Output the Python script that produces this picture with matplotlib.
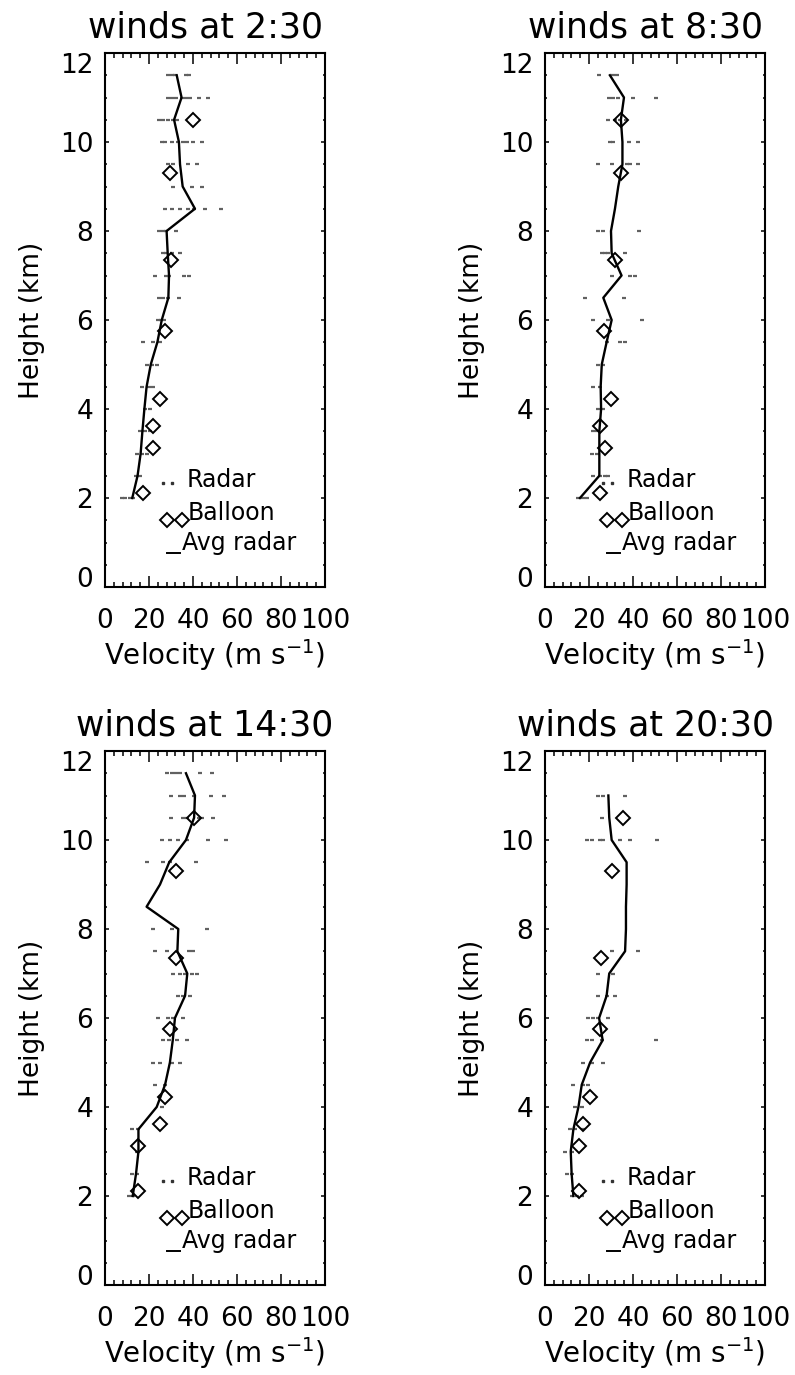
import matplotlib
matplotlib.use("Agg")
import matplotlib.pyplot as plt
from matplotlib.ticker import MultipleLocator

# ---- data -----------------------------------------------------------------
times = ["2:30", "8:30", "14:30", "20:30"]

# radar gate heights (km), top to bottom
radar_heights = [11.5, 11.0, 10.5, 10.0, 9.5, 9.0, 8.5, 8.0, 7.5, 7.0,
                 6.5, 6.0, 5.5, 5.0, 4.5, 4.0, 3.5, 3.0, 2.5, 2.0]
radar_heights_2030 = radar_heights[1:]

# balloon sounding heights (km)
balloon_heights = [10.5, 9.3, 7.35, 5.75, 4.22, 3.62, 3.12, 2.12]

# individual radar wind speeds (m/s) at each gate height
radar_0230 = [[28.8, 30.3, 31.8, 36.8, 38.3],
              [28.8, 30.3, 32.3, 34.8, 36.8, 38.6, 42.7, 46.8],
              [24.7, 26.2, 28.8, 30.8, 32.6],
              [25.8, 27.3, 30.3, 33.3, 35.6, 37.4, 40.2, 43.9],
              [28.8, 30.8, 37.9, 41.7],
              [30.8, 39.4, 43.9],
              [27.3, 30.6, 34.0, 37.5, 40.5, 45.5, 52.6],
              [24.7, 26.2, 27.7, 32.4],
              [26.2, 27.7, 30.3, 34.1],
              [22.7, 27.7, 29.2, 35.8, 38.1],
              [24.7, 26.5, 28.5, 33.5],
              [23.9, 25.5, 27.0],
              [17.4, 22.0, 25.0],
              [18.9, 21.2, 23.5],
              [16.7, 20.2, 22.0],
              [18.2, 20.5],
              [15.9, 18.2, 20.5],
              [14.4, 16.7, 18.9],
              [14.1, 15.9],
              [7.6, 9.1, 11.4, 12.9]]

radar_0830 = [[24.7, 31.1, 32.6],
              [29.2, 31.1, 33.3, 40.2, 50.4],
              [28.8, 31.8, 34.1, 36.8],
              [29.5, 30.8, 38.3, 42.4],
              [24.2, 30.3, 37.1, 38.6, 42.4],
              [],
              [],
              [24.2, 26.5, 42.9],
              [25.8, 27.3, 28.8, 36.4],
              [30.3, 38.6, 40.9],
              [18.2, 35.9],
              [22.0, 28.8, 43.9],
              [28.0, 34.1, 36.4],
              [24.2, 26.5],
              [22.0, 25.0],
              [24.2, 26.5],
              [21.7, 23.5],
              [21.2, 23.5],
              [22.0, 25.0, 27.3, 28.8],
              [15.2, 17.4, 18.9]]

radar_1430 = [[28.0, 30.3, 32.3, 34.1, 43.2, 48.5],
              [29.8, 34.1, 35.9, 40.6, 48.2, 54.1],
              [29.8, 35.3, 37.4, 42.9, 43.9, 49.2],
              [25.8, 29.5, 33.3, 37.1, 47.0, 55.0],
              [18.9, 26.2, 29.5, 41.4],
              [],
              [],
              [21.7, 30.3, 46.2],
              [22.7, 28.0, 38.3, 39.8],
              [31.1, 34.1, 36.4, 39.4, 41.7],
              [33.3, 35.6, 38.6],
              [24.2, 28.8, 31.1, 35.6],
              [26.5, 29.2, 32.6, 37.4],
              [22.0, 25.0, 30.3, 34.1],
              [22.7, 27.3],
              [25.8],
              [12.1, 15.2],
              [14.4],
              [12.1, 14.7],
              [11.1, 12.9]]

radar_2030 = [[24.2, 26.5, 36.4],
              [25.8],
              [18.9, 21.2, 25.0, 26.5, 34.1, 38.6, 50.8],
              [],
              [],
              [],
              [],
              [30.3, 42.4],
              [24.2, 31.1],
              [24.2, 28.0, 31.8],
              [19.7, 22.0, 24.2, 28.8],
              [19.2, 21.2, 25.8, 50.5],
              [17.4, 21.2, 26.5],
              [12.9, 17.4, 19.7],
              [13.6, 16.7],
              [11.4, 13.6, 17.4],
              [9.1, 12.1],
              [9.8, 12.1],
              [12.1, 14.4, 16.7]]

# averaged radar profile (m/s)
avg_0230 = [32.6, 34.8, 31.4, 33.6, 34.1, 35.3, 40.9, 28.0, 28.5, 29.1,
            28.8, 25.8, 23.8, 20.8, 18.9, 17.9, 17.0, 16.2, 14.8, 12.4]
avg_0830 = [29.5, 35.9, 34.5, 35.2, 35.2, 33.3, 31.8, 30.0, 30.3, 34.8,
            26.5, 30.3, 28.0, 25.8, 25.3, 25.5, 24.7, 24.7, 24.7, 15.9]
avg_1430 = [36.8, 40.9, 40.5, 36.8, 29.2, 25.0, 18.9, 33.3, 32.9, 37.4,
            36.4, 31.8, 30.8, 29.5, 27.3, 23.5, 15.2, 15.2, 14.1, 12.6]
avg_2030 = [28.8, 29.2, 30.3, 37.1, 37.1, 36.8, 36.8, 36.4, 29.2,
            28.0, 24.6, 26.2, 20.5, 16.7, 15.2, 12.9, 11.7, 12.1, 12.9]

# balloon wind speeds (m/s)
balloon_0230 = [39.8, 29.5, 30.0, 27.3, 25.0, 21.9, 21.9, 17.1]
balloon_0830 = [34.5, 34.5, 31.6, 26.8, 30.0, 25.0, 27.3, 25.0]
balloon_1430 = [40.5, 32.3, 32.3, 29.5, 27.3, 25.0, 15.2, 15.2]
balloon_2030 = [35.3, 30.3, 25.3, 25.0, 20.5, 17.4, 15.6, 15.6]

x_ticks = [0, 20, 40, 60, 80, 100]
y_ticks = [0, 2, 4, 6, 8, 10, 12]

# ---- figure ---------------------------------------------------------------
W, H, DPI = 795, 1375, 100
fig = plt.figure(figsize=(W / DPI, H / DPI), dpi=DPI)
fig.patch.set_facecolor("white")

AX_W, AX_H = 220, 534
corners = [(105, 53), (545, 53), (105, 751), (545, 751)]

panels = [
    (times[0], radar_heights, radar_0230, avg_0230, balloon_0230),
    (times[1], radar_heights, radar_0830, avg_0830, balloon_0830),
    (times[2], radar_heights, radar_1430, avg_1430, balloon_1430),
    (times[3], radar_heights_2030, radar_2030, avg_2030, balloon_2030),
]

radar_style = dict(ls="none", marker="_", ms=3, mew=1.6, color="0.38")
diamond_style = dict(ls="none", marker="D", ms=7.3, mfc="none",
                     mec="k", mew=1.4)

for (left, top), (label, heights, radar, avg, balloon) in zip(corners, panels):
    ax = fig.add_axes([left / W, 1 - (top + AX_H) / H, AX_W / W, AX_H / H])
    ax.set_xlim(0, 100)
    ax.set_ylim(0, 12)

    # radar samples
    for h, vals in zip(heights, radar):
        if vals:
            ax.plot(vals, [h] * len(vals), **radar_style)
    # averaged radar profile
    ax.plot(avg, heights, color="k", lw=1.7, solid_joinstyle="round")
    # balloon soundings
    ax.plot(balloon, balloon_heights, **diamond_style)

    # axes decoration
    ax.set_xticks(x_ticks)
    ax.set_yticks(y_ticks)
    ax.set_xticklabels([str(v) for v in x_ticks])
    ax.set_yticklabels([str(v) for v in y_ticks])
    ax.xaxis.set_minor_locator(MultipleLocator(4))
    ax.yaxis.set_minor_locator(MultipleLocator(0.5))
    ax.tick_params(which="both", direction="in", top=True, right=True,
                   width=1.1, color="k")
    ax.tick_params(axis="x", which="major", length=7.7, pad=15,
                   labelsize=19)
    ax.tick_params(axis="x", which="minor", length=3.8)
    ax.tick_params(axis="y", which="major", length=3.2, pad=8.5,
                   labelsize=19)
    ax.tick_params(axis="y", which="minor", length=1.6)
    ylabels = ax.get_yticklabels()
    ylabels[0].set_va("baseline")
    ylabels[-1].set_va("top")
    for sp in ax.spines.values():
        sp.set_linewidth(1.5)

    ax.text(0.455, 1 + 16 / AX_H, f"winds at {label}", transform=ax.transAxes,
            ha="center", va="baseline", fontsize=25)
    ax.text(0.5, -(655 - 587) / AX_H, "Velocity (m s$^{-1}$)",
            transform=ax.transAxes, ha="center", va="center", fontsize=20)
    ax.text(-(105 - 32) / AX_W, 0.5, "Height (km)", rotation=90,
            transform=ax.transAxes, ha="center", va="center", fontsize=19)

    # in-plot key
    ax.plot([0.264, 0.305], [0.195, 0.195], transform=ax.transAxes,
            ls="none", marker="s", ms=1.5, color="0.2")
    ax.text(0.373, 0.2, "Radar", transform=ax.transAxes,
            ha="left", va="center", fontsize=17)
    ax.plot([0.282, 0.35], [0.125, 0.125], transform=ax.transAxes,
            **diamond_style)
    ax.text(0.377, 0.139, "Balloon", transform=ax.transAxes,
            ha="left", va="center", fontsize=17)
    ax.plot([0.282, 0.341], [0.064, 0.064], transform=ax.transAxes,
            color="k", lw=1.4)
    ax.text(0.35, 0.082, "Avg radar", transform=ax.transAxes,
            ha="left", va="center", fontsize=17)

fig.savefig("out.png", dpi=DPI, facecolor="white")
